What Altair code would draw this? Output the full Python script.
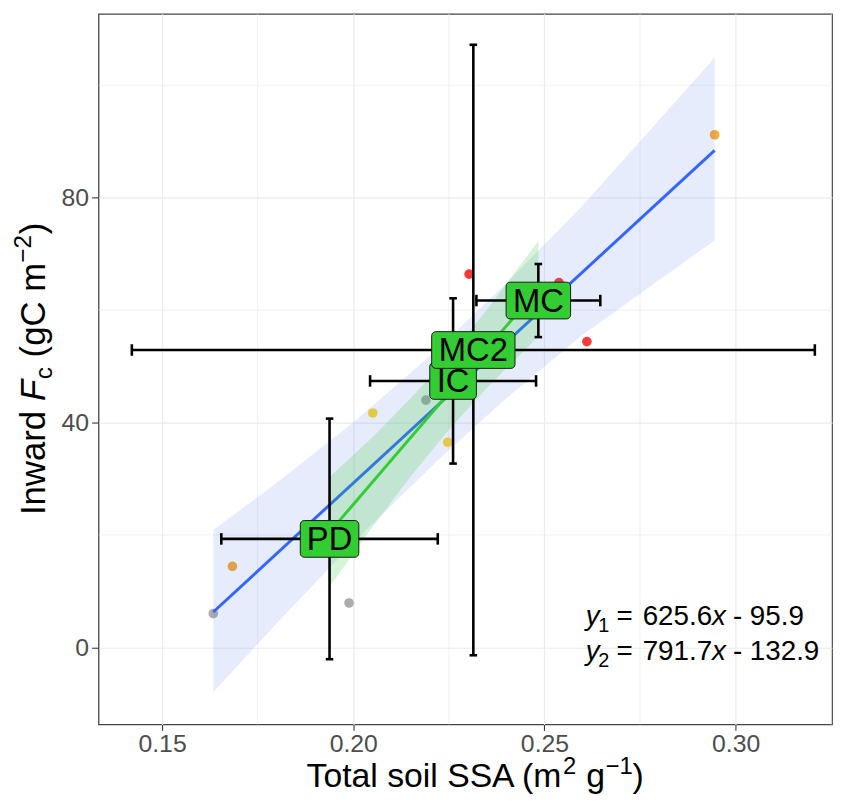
import altair as alt
import pandas as pd

FONT = "Liberation Sans"

# ---------------- data ----------------
pt_x = [0.1634, 0.1989, 0.2190, 0.1684, 0.2945, 0.2051, 0.2247, 0.2303, 0.2538, 0.2611]
pt_y = [6.0, 7.9, 44.0, 14.4, 91.2, 41.7, 36.5, 66.4, 64.9, 54.4]
pt_grp = ["gray", "gray", "gray", "orange", "orange", "yellow", "yellow", "red", "red", "red"]
grp_domain = ["gray", "orange", "yellow", "red"]
grp_colors = ["#A9A9A9", "#F5A52E", "#FCD625", "#FA3030"]

lab_names = ["IC", "MC", "MC2", "PD"]
lab_x = [0.2261, 0.2484, 0.2314, 0.1938]
lab_y = [47.4, 61.7, 52.9, 19.3]
lab_xsd = [0.0217, 0.0162, 0.0893, 0.0283]
lab_ysd = [14.7, 6.5, 54.3, 21.4]

fit1_x = [0.1634, 0.2945]
fit1_y = [6.3, 88.4]
fit2_x = [0.1938, 0.2484]
fit2_y = [20.5, 63.8]

band1_x = [0.1634, 0.180, 0.200, 0.222, 0.240, 0.260, 0.2945]
band1_lo = [-8.0, 4.3, 18.6, 33.2, 44.3, 55.6, 72.4]
band1_hi = [20.9, 29.3, 40.0, 53.0, 64.8, 78.6, 104.9]

band2_x = [0.1938, 0.205, 0.215, 0.225, 0.235, 0.2484]
band2_lo = [10.8, 21.4, 30.4, 38.7, 46.2, 55.3]
band2_hi = [30.3, 37.4, 44.3, 51.8, 60.1, 72.3]

x_major = [0.15, 0.20, 0.25, 0.30]
x_minor = [0.175, 0.225, 0.275, 0.325]
y_major = [0, 40, 80]
y_minor = [20, 60, 100]

eq_sub = ["1", "2"]
eq_slope = ["625.6", "791.7"]
eq_int = ["95.9", "132.9"]

# ---------------- scales / axes ----------------
xs = alt.Scale(domain=[0.1334, 0.3252], nice=False, zero=False)
ys = alt.Scale(domain=[-13.7, 112.7], nice=False, zero=False)

x_axis = alt.Axis(values=x_major, format=".2f", title="", grid=True,
                  gridColor="#EBEBEB", gridWidth=1.2, domain=False,
                  tickColor="#333333", tickSize=6, tickWidth=1.1,
                  labelFont=FONT, labelFontSize=25, labelColor="#4D4D4D",
                  labelPadding=1, labelFlush=False, labelOverlap=False)
y_axis = alt.Axis(values=y_major, format="d", title="", grid=True,
                  gridColor="#EBEBEB", gridWidth=1.2, domain=False,
                  tickColor="#333333", tickSize=7, tickWidth=1.1,
                  labelFont=FONT, labelFontSize=25, labelColor="#4D4D4D",
                  labelPadding=3, labelFlush=False, labelOverlap=False)


def X(f):
    return alt.X(f, type="quantitative", scale=xs, axis=x_axis)


def Y(f):
    return alt.Y(f, type="quantitative", scale=ys, axis=y_axis)


layers = []

# minor grid lines
layers.append(alt.Chart(pd.DataFrame({"v": x_minor})).mark_rule(
    color="#EBEBEB", strokeWidth=0.7).encode(x=X("v")))
layers.append(alt.Chart(pd.DataFrame({"v": y_minor})).mark_rule(
    color="#EBEBEB", strokeWidth=0.7).encode(y=Y("v")))

# points
pts = pd.DataFrame({"x": pt_x, "y": pt_y, "g": pt_grp})
layers.append(alt.Chart(pts).mark_circle(size=95, opacity=0.95).encode(
    x=X("x"), y=Y("y"),
    color=alt.Color("g:N", scale=alt.Scale(domain=grp_domain, range=grp_colors), legend=None)))

# blue smooth
b1 = pd.DataFrame({"x": band1_x, "lo": band1_lo, "hi": band1_hi})
layers.append(alt.Chart(b1).mark_area(color="#4169E1", opacity=0.13).encode(
    x=X("x"), y=Y("lo"), y2="hi"))
f1 = pd.DataFrame({"x": fit1_x, "y": fit1_y})
layers.append(alt.Chart(f1).mark_line(color="#3366FF", strokeWidth=3).encode(x=X("x"), y=Y("y")))

# green smooth
b2 = pd.DataFrame({"x": band2_x, "lo": band2_lo, "hi": band2_hi})
layers.append(alt.Chart(b2).mark_area(color="#32CD32", opacity=0.2).encode(
    x=X("x"), y=Y("lo"), y2="hi"))
f2 = pd.DataFrame({"x": fit2_x, "y": fit2_y})
layers.append(alt.Chart(f2).mark_line(color="#33CC33", strokeWidth=3).encode(x=X("x"), y=Y("y")))

# error bars
eb = pd.DataFrame({"name": lab_names, "x": lab_x, "y": lab_y})
eb["xlo"] = [a - b for a, b in zip(lab_x, lab_xsd)]
eb["xhi"] = [a + b for a, b in zip(lab_x, lab_xsd)]
eb["ylo"] = [a - b for a, b in zip(lab_y, lab_ysd)]
eb["yhi"] = [a + b for a, b in zip(lab_y, lab_ysd)]
ebc = alt.Chart(eb)
lw = 2.6
layers.append(ebc.mark_rule(color="black", strokeWidth=lw).encode(x=X("x"), y=Y("ylo"), y2="yhi"))
layers.append(ebc.mark_rule(color="black", strokeWidth=lw).encode(y=Y("y"), x=X("xlo"), x2="xhi"))
for f in ["ylo", "yhi"]:
    layers.append(ebc.mark_rule(color="black", strokeWidth=lw, xOffset=-3.8, x2Offset=3.8).encode(
        x=X("x"), x2="x", y=Y(f)))
for f in ["xlo", "xhi"]:
    layers.append(ebc.mark_rule(color="black", strokeWidth=lw, yOffset=-5.8, y2Offset=5.8).encode(
        x=X(f), y=Y("y"), y2="y"))

# labels (box + text), in drawing order
box_w = {"IC": 47, "MC": 65, "MC2": 84, "PD": 59}
box_h = 37
for nm in lab_names:
    sub = alt.Chart(eb).transform_filter(alt.datum.name == nm)
    w = box_w[nm]
    layers.append(sub.mark_rect(fill="#33CC33", stroke="#1A1A1A", strokeWidth=1, cornerRadius=4,
                                xOffset=-w / 2, x2Offset=w / 2,
                                yOffset=-box_h / 2, y2Offset=box_h / 2).encode(
        x=X("x"), x2="x", y=Y("y"), y2="y"))
    layers.append(sub.mark_text(font=FONT, fontSize=33, color="black", align="center",
                                baseline="middle", dy=1.5).encode(x=X("x"), y=Y("y"), text="name:N"))


# ---------------- composed text (titles, equations) ----------------
def piece(txt, x, y, size, italic=False, angle=0, dx=0, dy=0):
    return alt.Chart(pd.DataFrame({"t": [txt]})).mark_text(
        font=FONT, fontSize=size, fontStyle="italic" if italic else "normal",
        align="left", baseline="alphabetic", angle=angle, dx=dx, dy=dy, color="black"
    ).encode(x=alt.value(x), y=alt.value(y), text="t:N")


# equations
for i, yb in enumerate([616.0, 651.0]):
    layers.append(piece("y", 491.0, yb, 28, italic=True))
    layers.append(piece(eq_sub[i], 503.6, yb + 7, 20))
    layers.append(piece("=", 522.0, yb, 28))
    layers.append(piece(eq_slope[i], 548.5, yb, 28))
    layers.append(piece("x", 618.5, yb, 28, italic=True))
    layers.append(piece("-", 639.5, yb, 28))
    layers.append(piece(eq_int[i], 656.5, yb, 28))

# x title: Total soil SSA (m^2 g^-1)
xt0, xtb = 209.7, 779.5
layers.append(piece("Total soil SSA (m", xt0, xtb, 34))
layers.append(piece("2", xt0 + 258.5, xtb - 13, 24))
layers.append(piece("g", xt0 + 282.0, xtb, 34))
layers.append(piece("\u22121", xt0 + 301.5, xtb - 13, 24))
layers.append(piece(")", xt0 + 328.5, xtb, 34))

# y title: Inward F_c (gC m^-2)
ax, ay = -54.0, 505.3
fs = 35
layers.append(piece("Inward", ax, ay, fs, angle=270))
layers.append(piece("F", ax, ay, fs, italic=True, angle=270, dx=115.0))
layers.append(piece("c", ax, ay, 24.5, angle=270, dx=137.0, dy=7))
layers.append(piece("(gC m", ax, ay, fs, angle=270, dx=159.0))
layers.append(piece("\u22122", ax, ay, 24.5, angle=270, dx=254.5, dy=-14))
layers.append(piece(")", ax, ay, fs, angle=270, dx=283.0))

chart = alt.layer(*layers).properties(
    width=739.4, height=716.3,
    padding={"left": 91.3, "top": 2.7, "right": 5, "bottom": 73},
    autosize=alt.AutoSizeParams(type="none"),
    background="white",
).configure_view(stroke="#444444", strokeWidth=1.3)

chart.save("out.html", embed_options={"renderer": "svg", "actions": False})
